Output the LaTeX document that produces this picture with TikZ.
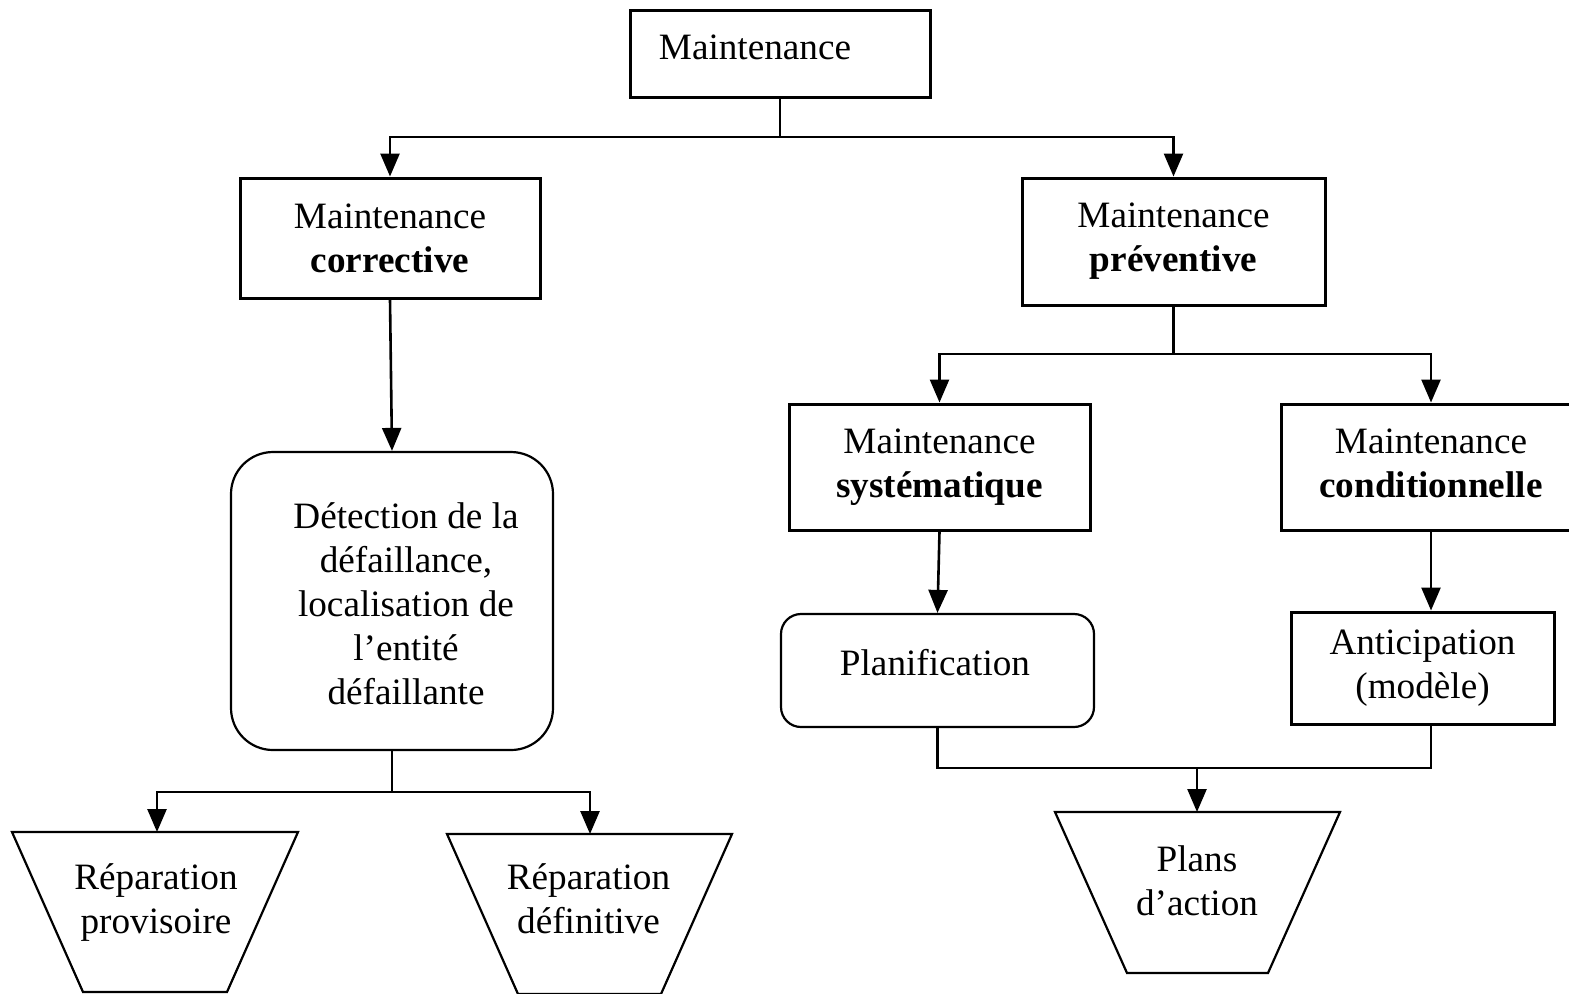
\documentclass[tikz,border=0pt]{standalone}
\usepackage{fontspec}
\setmainfont{Liberation Serif}
\usetikzlibrary{arrows.meta}
\begin{document}
\begin{tikzpicture}[x=0.5pt,y=-0.5pt,
  lbl/.style={font=\fontsize{18.6pt}{22pt}\selectfont, align=center, inner sep=0pt},
  box/.style={lbl, draw, line width=1.5pt},
  rbox/.style={lbl, draw, line width=1.1pt},
  trap/.style={draw, line width=1.1pt, line join=miter},
  ln/.style={line width=1.3pt},
  arr/.style={ln, -{Triangle[length=11.5pt,width=9.5pt]}}]
\useasboundingbox (0,0) rectangle (1569,993);
\clip (0,0) rectangle (1569,993);

% top level
\node[box, minimum width=150pt, minimum height=43.5pt] (root) at (780,53.5) {};
\node[lbl] (roottxt) at (755,47) {Maintenance};

% second level
\node[box, minimum width=150pt, minimum height=60pt] (corr) at (390,238)
  {Maintenance\\\textbf{corrective}};
\node[box, minimum width=151.5pt, minimum height=63.5pt] (prev) at (1173.5,241.5)
  {Maintenance\\\textbf{préventive}};

% corrective branch
\node[rbox, rounded corners=21pt, minimum width=161pt, minimum height=149pt] (det) at (392,601) {};
\node[lbl] (dettxt) at (406,604)
  {Détection de la\\défaillance,\\localisation de\\l’entité\\défaillante};

\draw[trap] (12,832) -- (298,832) -- (227,992) -- (83,992) -- cycle;
\coordinate (rp) at (157,832);
\node[lbl] (rptxt) at (156,903) {Réparation\\provisoire};

\draw[trap] (447,834) -- (732,834) -- (661,994) -- (518,994) -- cycle;
\coordinate (rd) at (590,834);
\node[lbl] (rdtxt) at (588.5,899) {Réparation\\définitive};

% preventive branch
\node[box, minimum width=150.5pt, minimum height=63pt] (sys) at (939.5,467)
  {Maintenance\\\textbf{systématique}};
\node[box, minimum width=150pt, minimum height=63pt] (cond) at (1431,467) {};
\node[lbl] (condtxt) at (1431,463) {Maintenance\\\textbf{conditionnelle}};

\node[rbox, rounded corners=10pt, minimum width=156.5pt, minimum height=56.5pt] (plan) at (937.5,670.5) {};
\node[lbl] (plantxt) at (935,663) {Planification};
\node[box, minimum width=131.5pt, minimum height=56pt] (antic) at (1422.5,668)
  {Anticipation\\(modèle)};

\draw[trap] (1055,812) -- (1340,812) -- (1268,973) -- (1127,973) -- cycle;
\coordinate (pa) at (1197,812);
\node[lbl] (patxt) at (1197,881) {Plans\\d’action};

% connectors
\coordinate (j1) at (780,137);
\draw[ln] (root.south) -- (j1);
\draw[arr] (j1) -| (corr.north);
\draw[arr] (j1) -| (prev.north);

\draw[arr] (corr.south) -- (det.north);
\coordinate (j2) at (392,792);
\draw[ln] (det.south) -- (j2);
\draw[arr] (j2) -| (rp);
\draw[arr] (j2) -| (rd);

\coordinate (j3) at (1173.5,354);
\draw[ln] (prev.south) -- (j3);
\draw[arr] (j3) -| (sys.north);
\draw[arr] (j3) -| (cond.north);

\draw[arr] (sys.south) -- (plan.north);
\draw[arr] (cond.south) -- (cond.south |- antic.north);

\coordinate (j4) at (1197,768);
\draw[ln] (plan.south) |- (j4) -| (cond.south |- antic.south);
\draw[arr] (j4) -- (pa);
\end{tikzpicture}
\end{document}
